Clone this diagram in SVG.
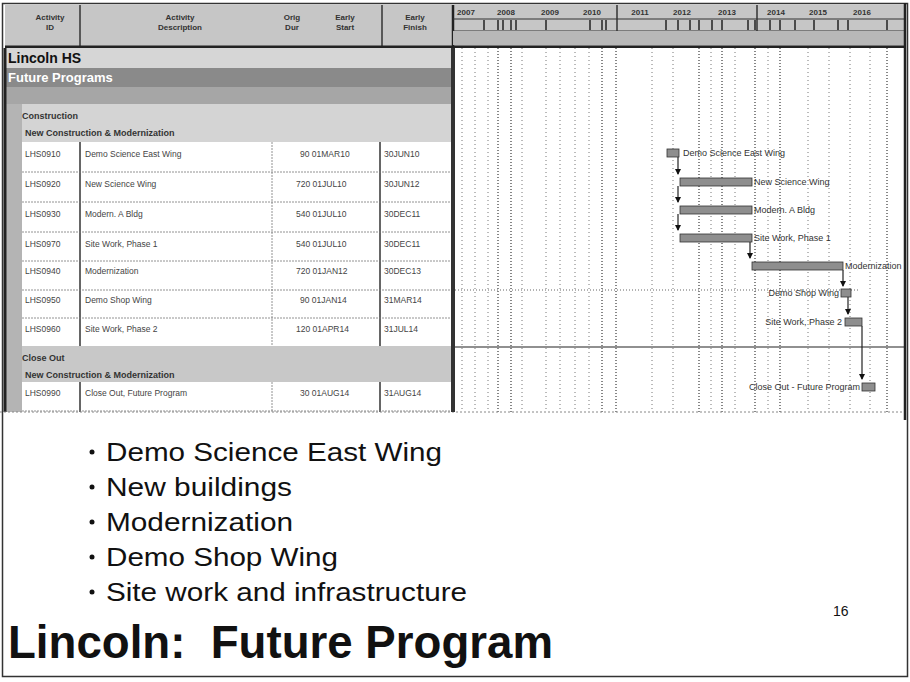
<svg xmlns="http://www.w3.org/2000/svg" width="910" height="682" viewBox="0 0 910 682">
<style>
text{font-family:"Liberation Sans",Arial,sans-serif}
.hd{font-size:8px;font-weight:bold;fill:#333;text-anchor:middle}
.yr{font-size:8px;font-weight:bold;fill:#333;text-anchor:middle}
.tk{font-size:8.5px;fill:#444}
.grp{font-size:9px;font-weight:bold;fill:#333}
.bl{font-size:9px;fill:#333}
.bar{fill:#8e8e8e;stroke:#333;stroke-width:0.8}
.gl{stroke:#777;stroke-width:1;stroke-dasharray:1 3}
.gd{stroke:#555;stroke-width:1.4;stroke-dasharray:1 2}
.rs{stroke:#777;stroke-width:0.8;stroke-dasharray:2 1}
.cn{stroke:#222;stroke-width:1.2;fill:none}
.bullet{font-size:26px;fill:#111}
</style>
<defs>
<marker id="ah" markerWidth="6" markerHeight="6" refX="5" refY="3" orient="auto" markerUnits="userSpaceOnUse">
<path d="M0,0 L6,3 L0,6 Z" fill="#111"/>
</marker>
</defs>
<rect x="0" y="0" width="910" height="682" fill="#fff"/>
<rect x="2.5" y="3.5" width="905" height="673" fill="none" stroke="#333" stroke-width="1.5"/>

<g id="gantt-header">
<rect x="5" y="5" width="900" height="42" fill="#c6c6c6"/>
<line x1="80" y1="5" x2="80" y2="47" stroke="#333" stroke-width="1.5"/>
<line x1="382" y1="5" x2="382" y2="47" stroke="#333" stroke-width="1.5"/>
<line x1="453" y1="5" x2="453" y2="47" stroke="#222" stroke-width="2.5"/>
<text class="hd" x="50" y="20">Activity</text><text class="hd" x="50" y="30">ID</text>
<text class="hd" x="180" y="20">Activity</text><text class="hd" x="180" y="30">Description</text>
<text class="hd" x="292" y="20">Orig</text><text class="hd" x="292" y="30">Dur</text>
<text class="hd" x="345" y="20">Early</text><text class="hd" x="345" y="30">Start</text>
<text class="hd" x="415" y="20">Early</text><text class="hd" x="415" y="30">Finish</text>
<line x1="453" y1="19" x2="905" y2="19" stroke="#333" stroke-width="1"/>
<line x1="453" y1="31" x2="905" y2="31" stroke="#333" stroke-width="1"/>
<line x1="617" y1="5" x2="617" y2="31" stroke="#333" stroke-width="1.5"/>
<line x1="757" y1="5" x2="757" y2="31" stroke="#333" stroke-width="1.5"/>
<text class="yr" x="466" y="15">2007</text>
<text class="yr" x="506" y="15">2008</text>
<text class="yr" x="550" y="15">2009</text>
<text class="yr" x="592" y="15">2010</text>
<text class="yr" x="640" y="15">2011</text>
<text class="yr" x="682" y="15">2012</text>
<text class="yr" x="727" y="15">2013</text>
<text class="yr" x="776" y="15">2014</text>
<text class="yr" x="818" y="15">2015</text>
<text class="yr" x="862" y="15">2016</text>
<g stroke="#222" stroke-width="1.5">
<line x1="484" y1="20" x2="484" y2="30"/><line x1="498" y1="20" x2="498" y2="30"/><line x1="503" y1="20" x2="503" y2="30"/><line x1="511" y1="20" x2="511" y2="30"/><line x1="516" y1="20" x2="516" y2="30"/>
<line x1="546" y1="20" x2="546" y2="30"/><line x1="590" y1="20" x2="590" y2="30"/><line x1="602" y1="20" x2="602" y2="30"/><line x1="606" y1="20" x2="606" y2="30"/>
<line x1="666" y1="20" x2="666" y2="30"/><line x1="678" y1="20" x2="678" y2="30"/><line x1="690" y1="20" x2="690" y2="30"/><line x1="699" y1="20" x2="699" y2="30"/><line x1="712" y1="20" x2="712" y2="30"/><line x1="722" y1="20" x2="722" y2="30"/>
<line x1="748" y1="20" x2="748" y2="30"/><line x1="755" y1="20" x2="755" y2="30"/><line x1="770" y1="20" x2="770" y2="30"/><line x1="780" y1="20" x2="780" y2="30"/><line x1="795" y1="20" x2="795" y2="30"/>
<line x1="814" y1="20" x2="814" y2="30"/><line x1="838" y1="20" x2="838" y2="30"/><line x1="848" y1="20" x2="848" y2="30"/><line x1="887" y1="20" x2="887" y2="30"/>
</g>
<rect x="453" y="31" width="452" height="14" fill="#b8b8b8"/>
<line x1="5" y1="47" x2="905" y2="47" stroke="#222" stroke-width="3"/>
</g>

<g id="left-panel">
<rect x="5" y="48" width="448" height="364" fill="#d2d2d2"/>
<rect x="5" y="48" width="448" height="20" fill="#d6d6d6"/>
<rect x="5" y="68" width="448" height="19" fill="#8a8a8a"/>
<rect x="5" y="87" width="448" height="17" fill="#a6a6a6"/>
<rect x="5" y="104" width="448" height="38" fill="#d4d4d4"/>
<rect x="5" y="346" width="448" height="36" fill="#c8c8c8"/>
<rect x="5" y="104" width="17" height="308" fill="#b4b4b4"/>
<text x="8" y="63" font-size="14" font-weight="bold" fill="#111">Lincoln HS</text>
<text x="8" y="82" font-size="13" font-weight="bold" fill="#fff">Future Programs</text>
<text class="grp" x="22" y="119" font-size="10">Construction</text>
<text class="grp" x="25" y="136">New Construction &amp; Modernization</text>
<text class="grp" x="22" y="361" font-size="10">Close Out</text>
<text class="grp" x="25" y="378">New Construction &amp; Modernization</text>
<line x1="5" y1="48" x2="5" y2="412" stroke="#222" stroke-width="3"/>
</g>

<g id="task-rows">
<g fill="#fff">
<rect x="22" y="142" width="430" height="204"/>
<rect x="22" y="382" width="430" height="30"/>
</g>
<g stroke="#333" stroke-width="1.5">
<line x1="80" y1="142" x2="80" y2="346"/><line x1="380" y1="142" x2="380" y2="346"/>
<line x1="80" y1="382" x2="80" y2="412"/><line x1="380" y1="382" x2="380" y2="412"/>
</g>
<g class="rs">
<line x1="272" y1="142" x2="272" y2="346"/><line x1="272" y1="382" x2="272" y2="412"/>
<line x1="22" y1="172" x2="452" y2="172"/><line x1="22" y1="202" x2="452" y2="202"/>
<line x1="22" y1="232" x2="452" y2="232"/><line x1="22" y1="261" x2="452" y2="261"/>
<line x1="22" y1="290" x2="452" y2="290"/><line x1="22" y1="318" x2="452" y2="318"/>
<line x1="22" y1="411" x2="452" y2="411"/>
</g>
<g id="row1"><text class="tk" x="25" y="157">LHS0910</text><text class="tk" x="85" y="157">Demo Science East Wing</text><text class="tk" x="300" y="157">90 01MAR10</text><text class="tk" x="384" y="157">30JUN10</text></g>
<g id="row2"><text class="tk" x="25" y="187">LHS0920</text><text class="tk" x="85" y="187">New Science Wing</text><text class="tk" x="296" y="187">720 01JUL10</text><text class="tk" x="384" y="187">30JUN12</text></g>
<g id="row3"><text class="tk" x="25" y="217">LHS0930</text><text class="tk" x="85" y="217">Modern. A Bldg</text><text class="tk" x="296" y="217">540 01JUL10</text><text class="tk" x="384" y="217">30DEC11</text></g>
<g id="row4"><text class="tk" x="25" y="247">LHS0970</text><text class="tk" x="85" y="247">Site Work, Phase 1</text><text class="tk" x="296" y="247">540 01JUL10</text><text class="tk" x="384" y="247">30DEC11</text></g>
<g id="row5"><text class="tk" x="25" y="274">LHS0940</text><text class="tk" x="85" y="274">Modernization</text><text class="tk" x="296" y="274">720 01JAN12</text><text class="tk" x="384" y="274">30DEC13</text></g>
<g id="row6"><text class="tk" x="25" y="303">LHS0950</text><text class="tk" x="85" y="303">Demo Shop Wing</text><text class="tk" x="300" y="303">90 01JAN14</text><text class="tk" x="384" y="303">31MAR14</text></g>
<g id="row7"><text class="tk" x="25" y="332">LHS0960</text><text class="tk" x="85" y="332">Site Work, Phase 2</text><text class="tk" x="296" y="332">120 01APR14</text><text class="tk" x="384" y="332">31JUL14</text></g>
<g id="row8"><text class="tk" x="25" y="396">LHS0990</text><text class="tk" x="85" y="396">Close Out, Future Program</text><text class="tk" x="300" y="396">30 01AUG14</text><text class="tk" x="384" y="396">31AUG14</text></g>
</g>

<g id="chart-grid">
<rect x="455" y="48" width="450" height="364" fill="#fff"/>
<g class="gl">
<line x1="462" y1="48" x2="462" y2="412"/><line x1="475" y1="48" x2="475" y2="412"/><line x1="488" y1="48" x2="488" y2="412"/>
<line x1="522" y1="48" x2="522" y2="412"/><line x1="546" y1="48" x2="546" y2="412"/><line x1="560" y1="48" x2="560" y2="412"/>
<line x1="575" y1="48" x2="575" y2="412"/><line x1="589" y1="48" x2="589" y2="412"/><line x1="652" y1="48" x2="652" y2="412"/>
<line x1="673" y1="48" x2="673" y2="412"/><line x1="711" y1="48" x2="711" y2="412"/><line x1="735" y1="48" x2="735" y2="412"/>
<line x1="768" y1="48" x2="768" y2="412"/><line x1="808" y1="48" x2="808" y2="412"/><line x1="829" y1="48" x2="829" y2="412"/>
<line x1="850" y1="48" x2="850" y2="412"/><line x1="870" y1="48" x2="870" y2="412"/>
</g>
<g class="gd">
<line x1="498" y1="48" x2="498" y2="412"/><line x1="511" y1="48" x2="511" y2="412"/>
<line x1="602" y1="48" x2="602" y2="412"/><line x1="616" y1="48" x2="616" y2="412"/>
<line x1="699" y1="48" x2="699" y2="412"/><line x1="722" y1="48" x2="722" y2="412"/>
<line x1="755" y1="48" x2="755" y2="412"/><line x1="780" y1="48" x2="780" y2="412"/>
<line x1="887" y1="48" x2="887" y2="412"/>
</g>
<line x1="455" y1="290" x2="860" y2="290" stroke="#666" stroke-width="1" stroke-dasharray="1 2"/>
<line x1="455" y1="347" x2="905" y2="347" stroke="#222" stroke-width="1.2"/>
<line x1="0" y1="412" x2="905" y2="412" stroke="#888" stroke-width="1" stroke-dasharray="2 2"/>
<line x1="453" y1="48" x2="453" y2="412" stroke="#333" stroke-width="4"/>
<line x1="905" y1="3" x2="905" y2="420" stroke="#222" stroke-width="2.5"/>
</g>

<g id="connectors">
<line class="cn" x1="678" y1="157" x2="678" y2="174" marker-end="url(#ah)"/>
<line class="cn" x1="678" y1="186" x2="678" y2="202" marker-end="url(#ah)"/>
<line class="cn" x1="678" y1="214" x2="678" y2="230" marker-end="url(#ah)"/>
<line class="cn" x1="750" y1="242" x2="750" y2="258" marker-end="url(#ah)"/>
<line class="cn" x1="843" y1="270" x2="843" y2="286" marker-end="url(#ah)"/>
<line class="cn" x1="848" y1="297" x2="848" y2="314" marker-end="url(#ah)"/>
<line class="cn" x1="862" y1="326" x2="862" y2="379" marker-end="url(#ah)"/>
</g>

<g id="bar1"><rect class="bar" x="667" y="149" width="12" height="8"/><text class="bl" x="683" y="156">Demo Science East Wing</text></g>
<g id="bar2"><rect class="bar" x="680" y="178" width="72" height="8"/><text class="bl" x="754" y="185">New Science Wing</text></g>
<g id="bar3"><rect class="bar" x="680" y="206" width="72" height="8"/><text class="bl" x="754" y="213">Modern. A Bldg</text></g>
<g id="bar4"><rect class="bar" x="680" y="234" width="72" height="8"/><text class="bl" x="754" y="241">Site Work, Phase 1</text></g>
<g id="bar5"><rect class="bar" x="752" y="262" width="91" height="8"/><text class="bl" x="845" y="269">Modernization</text></g>
<g id="bar6"><rect class="bar" x="841" y="289" width="10" height="8" fill="#444"/><text class="bl" x="839" y="296" text-anchor="end">Demo Shop Wing</text></g>
<g id="bar7"><rect class="bar" x="845" y="318" width="17" height="8"/><text class="bl" x="842" y="325" text-anchor="end">Site Work, Phase 2</text></g>
<g id="bar8"><rect class="bar" x="862" y="383" width="13" height="8"/><text class="bl" x="860" y="390" text-anchor="end">Close Out - Future Program</text></g>

<g id="bullets">
<g fill="#111"><circle cx="92" cy="452" r="2.5"/><circle cx="92" cy="487" r="2.5"/><circle cx="92" cy="522" r="2.5"/><circle cx="92" cy="557" r="2.5"/><circle cx="92" cy="592" r="2.5"/></g>
<text class="bullet" x="106" y="461" textLength="336" lengthAdjust="spacingAndGlyphs">Demo Science East Wing</text>
<text class="bullet" x="106" y="496" textLength="186" lengthAdjust="spacingAndGlyphs">New buildings</text>
<text class="bullet" x="106" y="531" textLength="187" lengthAdjust="spacingAndGlyphs">Modernization</text>
<text class="bullet" x="106" y="566" textLength="232" lengthAdjust="spacingAndGlyphs">Demo Shop Wing</text>
<text class="bullet" x="106" y="601" textLength="361" lengthAdjust="spacingAndGlyphs">Site work and infrastructure</text>
</g>
<g id="title">
<text x="8" y="658" font-size="47" font-weight="bold" fill="#111" textLength="545" lengthAdjust="spacingAndGlyphs" xml:space="preserve">Lincoln:  Future Program</text>
<text x="833" y="616" font-size="14" fill="#111">16</text>
</g>
</svg>
